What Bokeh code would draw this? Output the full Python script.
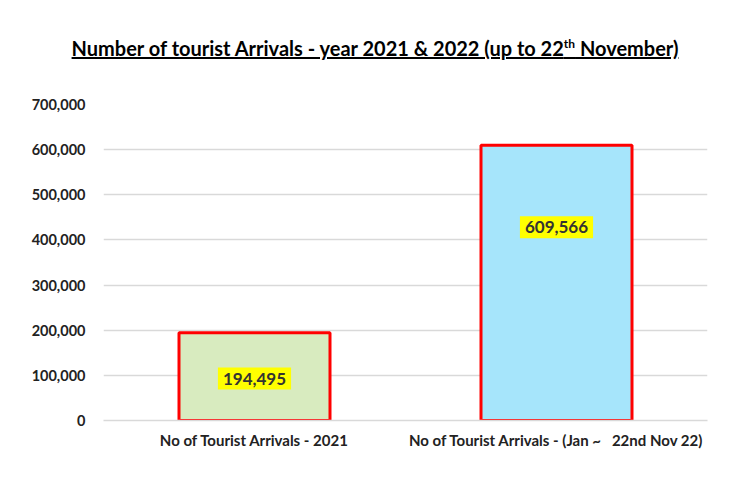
from bokeh.plotting import figure
from bokeh.models import ColumnDataSource, FactorRange, Range1d, NumeralTickFormatter, Label, Div, FixedTicker
from bokeh.layouts import column
from bokeh.embed import file_html
from bokeh.resources import INLINE

categories = ["No of Tourist Arrivals - 2021", "No of Tourist Arrivals - (Jan ~\u00a0\u00a0 22nd Nov 22)"]
values = [194495, 609566]
value_labels = ["194,495", "609,566"]
label_y = [93000, 428000]
colors = ["#d8ebbf", "#a6e5fb"]
y_ticks = [0, 100000, 200000, 300000, 400000, 500000, 600000, 700000]

FONT = "Lato"
TXT = "#222222"

title = Div(
    text=('<div style="font-family:Lato, sans-serif;font-weight:bold;font-size:20px;'
          'text-decoration:underline;text-align:center;width:750px;color:#000;">'
          'Number of tourist Arrivals - year 2021 &amp; 2022 (up to 22<sup style="font-size:12px;">th</sup> November)</div>'),
    width=750, height=62, margin=(34, 0, 0, 0),
)

src = ColumnDataSource(dict(cat=categories, val=values, color=colors))

p = figure(x_range=FactorRange(*categories), y_range=Range1d(0, 700000),
           width=734, height=355, output_backend="svg", toolbar_location=None,
           min_border_left=103, min_border_right=27, min_border_top=8, min_border_bottom=10)
p.vbar(x="cat", top="val", width=0.5, source=src, fill_color="color",
       line_color="#ff0000", line_width=3)

for c, ly, t in zip(categories, label_y, value_labels):
    p.add_layout(Label(x=categories.index(c) + 0.5, y=ly, text=t, text_align="center",
                       text_baseline="middle", text_font=FONT, text_font_style="bold",
                       text_font_size="17px", text_color="#333333",
                       background_fill_color="#ffff00", border_line_color=None, padding=5))

p.outline_line_color = None
p.xgrid.grid_line_color = None
p.ygrid.grid_line_color = "#d9d9d9"
p.ygrid.grid_line_width = 1.5
p.yaxis.ticker = FixedTicker(ticks=y_ticks)
p.yaxis.formatter = NumeralTickFormatter(format="0,0")
p.yaxis.axis_line_color = None
p.yaxis.major_tick_line_color = None
p.yaxis.minor_tick_line_color = None
p.yaxis.major_label_text_font = FONT
p.yaxis.major_label_text_font_style = "bold"
p.yaxis.major_label_text_font_size = "14.5px"
p.yaxis.major_label_text_color = TXT
p.yaxis.major_label_standoff = 12
p.xaxis.axis_line_color = "#d9d9d9"
p.xaxis.axis_line_width = 1.5
p.xaxis.major_tick_line_color = None
p.xaxis.minor_tick_line_color = None
p.xaxis.major_label_text_font = FONT
p.xaxis.major_label_text_font_style = "bold"
p.xaxis.major_label_text_font_size = "15px"
p.xaxis.major_label_text_color = TXT
p.xaxis.major_label_standoff = 4
p.background_fill_color = "white"

layout = column(title, p, spacing=0)
open("out.html", "w").write(file_html(layout, INLINE))
